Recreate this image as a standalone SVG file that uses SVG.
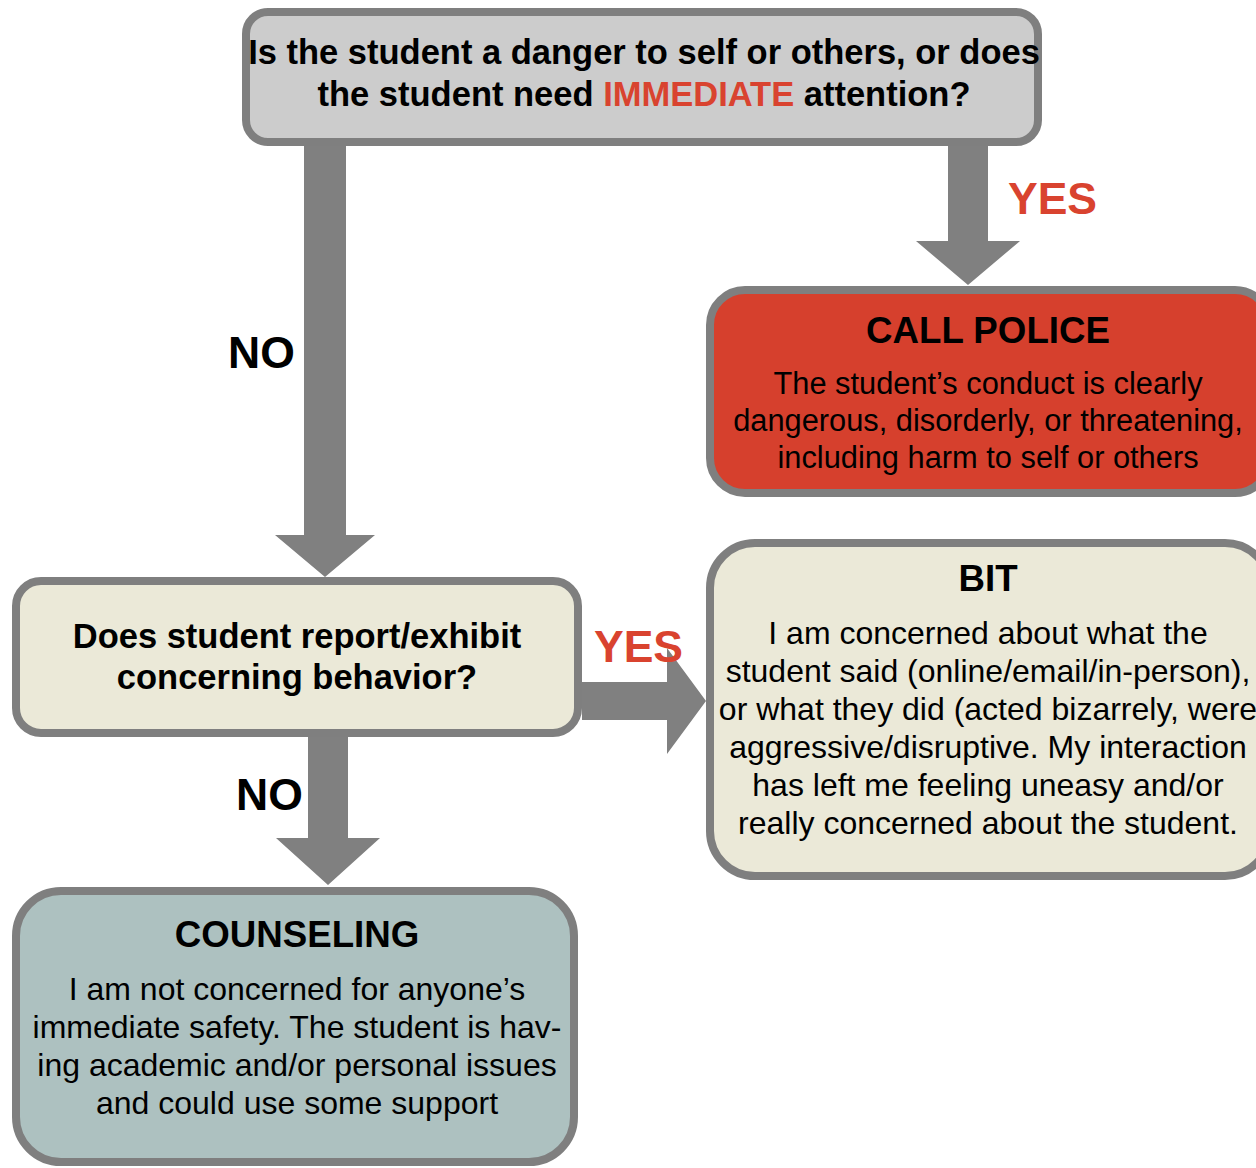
<svg xmlns="http://www.w3.org/2000/svg" width="1256" height="1168" viewBox="0 0 1256 1168">
<style>
.box{stroke:#7f7f7f;stroke-width:8}
.q{font-family:"Liberation Sans",Arial,sans-serif;font-weight:bold;font-size:34.5px;fill:#000;text-anchor:middle}
.t{font-family:"Liberation Sans",Arial,sans-serif;font-weight:bold;font-size:36.7px;fill:#000;text-anchor:middle}
.b{font-family:"Liberation Sans",Arial,sans-serif;font-size:32px;fill:#000;text-anchor:middle}
.bs{font-family:"Liberation Sans",Arial,sans-serif;font-size:30.8px;fill:#000;text-anchor:middle}
.lbl{font-family:"Liberation Sans",Arial,sans-serif;font-weight:bold;font-size:44.5px}
.red{fill:#d9432f}
.arrow{fill:#808080}
</style>
<rect width="1256" height="1168" fill="#fff"/>
<g id="q1">
<rect class="box" x="246" y="12" width="792" height="130" rx="22" fill="#cccccc"/>
<text class="q" x="644" y="64">Is the student a danger to self or others, or does</text>
<text class="q" x="644" y="106">the student need <tspan class="red">IMMEDIATE</tspan> attention?</text>
</g>
<g id="police">
<rect class="box" x="710" y="290" width="560" height="203" rx="35" fill="#d6402d"/>
<text class="t" x="988" y="343">CALL POLICE</text>
<text class="bs" x="988" y="394">The student’s conduct is clearly</text>
<text class="bs" x="988" y="431">dangerous, disorderly, or threatening,</text>
<text class="bs" x="988" y="468">including harm to self or others</text>
</g>
<g id="bit">
<rect class="box" x="710" y="543" width="560" height="333" rx="45" fill="#ebe9d8"/>
<text class="t" x="988" y="591">BIT</text>
<text class="b" x="988" y="644">I am concerned about what the</text>
<text class="b" x="988" y="682">student said (online/email/in-person),</text>
<text class="b" x="988" y="720">or what they did (acted bizarrely, were</text>
<text class="b" x="988" y="758">aggressive/disruptive. My interaction</text>
<text class="b" x="988" y="796">has left me feeling uneasy and/or</text>
<text class="b" x="988" y="834">really concerned about the student.</text>
</g>
<g id="q2">
<rect class="box" x="16" y="581" width="562" height="152" rx="25" fill="#ebe9d8"/>
<text class="q" x="297" y="648">Does student report/exhibit</text>
<text class="q" x="297" y="689">concerning behavior?</text>
</g>
<g id="counseling">
<rect class="box" x="16" y="891" width="558" height="271" rx="45" fill="#adc1c0"/>
<text class="t" x="297" y="947">COUNSELING</text>
<text class="b" x="297" y="1000">I am not concerned for anyone’s</text>
<text class="b" x="297" y="1038">immediate safety. The student is hav-</text>
<text class="b" x="297" y="1076">ing academic and/or personal issues</text>
<text class="b" x="297" y="1114">and could use some support</text>
</g>
<g id="connectors">
<polygon class="arrow" points="304,146 346,146 346,535 375,535 325,577 275,535 304,535"/>
<polygon class="arrow" points="948,146 988,146 988,241 1020,241 968,285 916,241 948,241"/>
<polygon class="arrow" points="582,682 667,682 667,648 706,701 667,754 667,720 582,720"/>
<polygon class="arrow" points="308,737 348,737 348,838 380,838 328,885 276,838 308,838"/>
<text class="lbl" x="228" y="368">NO</text>
<text class="lbl red" x="1008" y="214">YES</text>
<text class="lbl red" x="594" y="662">YES</text>
<text class="lbl" x="236" y="810">NO</text>
</g>
</svg>
